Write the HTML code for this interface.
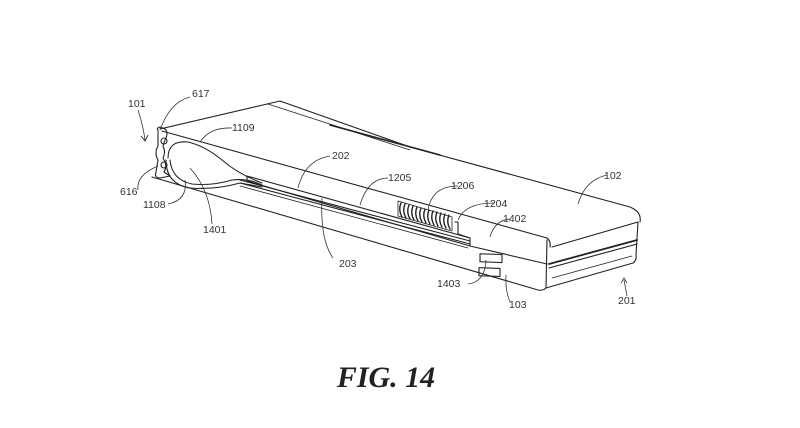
<!DOCTYPE html>
<html><head><style>
html,body{margin:0;padding:0;background:#fff;}
svg{display:block}
text{font-family:"Liberation Sans","DejaVu Sans",sans-serif;font-size:10.5px;fill:#333}
</style></head><body>
<svg width="800" height="428" viewBox="0 0 800 428" xmlns="http://www.w3.org/2000/svg">
<g fill="none" stroke="#222" stroke-width="1.1" stroke-linejoin="round" stroke-linecap="round">
<path d="M160,129 L280,101 L410,147 L630,207 Q642,212 640,222"/>
<path d="M268,104 L410,150" stroke-width="0.8"/>
<path d="M330,125 L440,155" stroke-width="1.6"/>
<path d="M162,131 L547,238 Q551,241 550,247"/>
<path d="M552,247 L638,222"/>
<path d="M152,177 L538,290 Q543,291 546,288"/>
<path d="M546,288 L633,263 Q637,260 636,255 L638,222"/>
<path d="M547,240 L546,288"/>
<path d="M549,264 L637,240" stroke-width="1.8"/>
<path d="M549,268 L637,244"/>
<path d="M470,246 L547,264"/>
<path d="M552,278 L632,256" stroke-width="0.8"/>
<path d="M158,130 Q156,128 160,127 L165,129 Q169,133 165,140 L163,146 Q166,152 163,158 Q168,166 164,172 L170,176 L160,178 Q154,178 156,172 L158,160 Q154,153 158,146 Z"/>
<circle cx="164" cy="141" r="3"/>
<circle cx="164" cy="165" r="3"/>
<path d="M168,158 Q168,140 188,142 Q205,146 222,160 Q238,174 262,183"/>
<path d="M170,160 Q172,180 192,184 Q212,186 232,180 Q248,178 262,185"/>
<path d="M166,160 Q166,184 190,188 Q215,190 240,183 L262,187"/>
<path d="M247,176 L470,238 L470,246 L247,181 Z"/>
<path d="M240,180 L470,241"/>
<path d="M240,183 L470,244"/>
<path d="M240,186 L468,248" stroke-width="0.8"/>
<path d="M455,222 L458,222 L458,234 L470,238"/>
<path d="M398,201 L452,217 L452,231 L398,216 Z" stroke-width="0.8"/>
<g stroke-width="1.4">
<path d="M401,203 Q398,210 402,217"/><path d="M405,204 Q402,211 406,218"/><path d="M409,205 Q406,212 410,219"/><path d="M413,206 Q410,213 414,220"/><path d="M417,207 Q414,214 418,221"/><path d="M421,208 Q418,215 422,222"/><path d="M425,209 Q422,216 426,223"/><path d="M429,210 Q426,217 430,224"/><path d="M433,211 Q430,218 434,225"/><path d="M437,212 Q434,219 438,226"/><path d="M441,213 Q438,220 442,227"/><path d="M445,214 Q442,221 446,228"/><path d="M449,215 Q446,222 450,229"/>
</g>
<rect x="480" y="237" width="22" height="8" transform="skewY(2)"/>
<rect x="479" y="251" width="21" height="8" transform="skewY(2)"/>
</g>
<g fill="none" stroke="#333" stroke-width="0.8">
<path d="M138,110 Q143,125 145,140"/><path d="M141,136 L145,141 L148,135" stroke-width="1"/>
<path d="M190,97 Q170,102 160,130"/>
<path d="M232,128 Q210,127 200,142"/>
<path d="M138,190 Q136,175 158,166"/>
<path d="M168,204 Q188,200 185,180"/>
<path d="M212,224 Q210,190 190,168"/>
<path d="M330,156 Q305,160 298,188"/>
<path d="M388,178 Q368,178 360,205"/>
<path d="M458,186 Q432,186 428,210"/>
<path d="M494,203 Q465,203 458,220"/>
<path d="M510,219 Q495,220 490,237"/>
<path d="M607,175 Q585,180 578,204"/>
<path d="M468,284 Q485,282 486,260"/>
<path d="M510,302 Q505,290 506,275"/>
<path d="M627,296 L624,280"/><path d="M621,283 L624,278 L627,283"/>
<path d="M333,258 Q320,240 322,198"/>
</g>
<text x="128" y="107">101</text>
<text x="192" y="97">617</text>
<text x="232" y="131">1109</text>
<text x="120" y="195">616</text>
<text x="143" y="208">1108</text>
<text x="203" y="233">1401</text>
<text x="332" y="159">202</text>
<text x="388" y="181">1205</text>
<text x="451" y="189">1206</text>
<text x="484" y="207">1204</text>
<text x="503" y="222">1402</text>
<text x="604" y="179">102</text>
<text x="437" y="287">1403</text>
<text x="509" y="308">103</text>
<text x="618" y="304">201</text>
<text x="339" y="267">203</text>
<text x="386" y="387" text-anchor="middle" style="font-family:'Liberation Serif',serif;font-size:30px;font-style:italic;font-weight:bold;fill:#222">FIG. 14</text>
</svg>
</body></html>
